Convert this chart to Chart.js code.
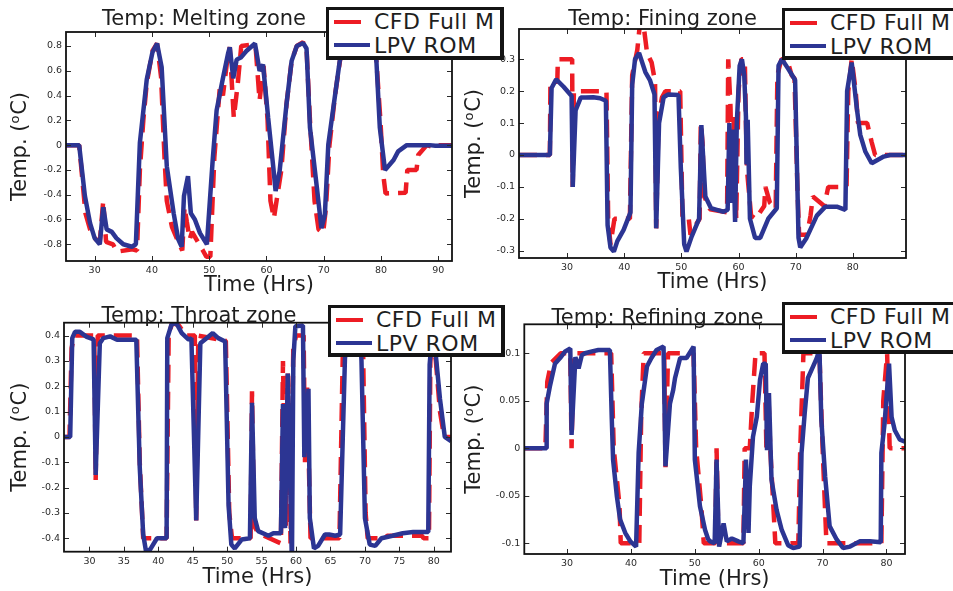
<!DOCTYPE html>
<html>
<head>
<meta charset="utf-8">
<script src="https://cdn.jsdelivr.net/npm/chart.js@4.4.1/dist/chart.umd.min.js"></script>
<style>
  html, body { margin: 0; padding: 0; background: #fff; }
  body { width: 953px; height: 591px; overflow: hidden; position: relative; font-family: "DejaVu Sans", sans-serif; }
  canvas { position: absolute; }
  .lg { position: absolute; background: #fff; border: 3px solid #141414; border-right-width: 4px; border-bottom-width: 4px; box-sizing: border-box; z-index: 5; }
  .lg .sw { position: absolute; height: 4px; }
  .lg .tx { position: absolute; font-size: 22px; line-height: 1; letter-spacing: 0.5px; color: #1e1e1e; white-space: nowrap; }
</style>
</head>
<body>
<script>
// ---- series: [time (h), temperature deviation (°C)] ----
const meltingCfd = [[25,0],[27.3,0],[28.4,-0.55],[29.2,-0.68],[30.2,-0.76],[30.9,-0.78],[31.5,-0.45],[32.0,-0.78],[33.2,-0.8],[33.9,-0.86],[36.6,-0.84],[37.4,-0.85],[37.9,-0.2],[38.5,0.2],[39.1,0.5],[40.1,0.76],[40.9,0.82],[41.6,0.55],[42.2,-0.1],[42.6,-0.45],[43.5,-0.66],[44.6,-0.78],[45.3,-0.85],[45.7,-0.5],[46.1,-0.62],[46.6,-0.76],[47.0,-0.7],[48.0,-0.78],[48.9,-0.85],[49.5,-0.9],[50.2,-0.9],[50.9,-0.1],[51.9,0.49],[52.4,0.4],[53.3,0.74],[53.6,0.79],[54.3,0.22],[55.0,0.5],[55.6,0.8],[57.3,0.81],[58.1,0.8],[58.8,0.36],[59.5,0.64],[60.2,0.2],[60.7,-0.45],[61.3,-0.59],[61.8,-0.44],[62.6,-0.2],[63.5,0.33],[64.4,0.68],[65.3,0.8],[66.4,0.83],[67.0,0.78],[67.6,0.2],[68.4,-0.45],[69.1,-0.68],[69.9,-0.71],[70.4,-0.5],[71.0,0],[72.0,0.41],[72.9,0.7],[73.8,0.82],[78.5,0.83],[79.2,0.68],[79.9,0.2],[80.4,-0.24],[80.8,-0.39],[84.3,-0.385],[84.6,-0.2],[86.2,-0.2],[86.5,-0.08],[88.0,0],[89.4,-0.02],[89.9,0],[92.4,0]];
const meltingLpv = [[25,0],[27.3,0],[28.3,-0.41],[29.2,-0.63],[30.0,-0.75],[30.9,-0.8],[31.5,-0.5],[32.1,-0.68],[33.0,-0.7],[33.8,-0.75],[35.0,-0.8],[36.5,-0.82],[37.2,-0.8],[37.9,0.02],[39.1,0.53],[40.1,0.75],[40.9,0.82],[41.7,0.63],[42.6,-0.17],[43.8,-0.55],[44.6,-0.76],[45.2,-0.82],[45.6,-0.41],[46.3,-0.25],[46.8,-0.55],[47.5,-0.6],[48.4,-0.71],[49.6,-0.8],[50.6,-0.13],[51.3,0.28],[52.4,0.54],[53.3,0.74],[53.6,0.79],[54.2,0.54],[54.8,0.69],[55.6,0.71],[56.5,0.76],[58.0,0.82],[58.8,0.6],[59.4,0.65],[60.3,0.22],[61.2,-0.18],[61.6,-0.37],[62.3,-0.21],[63.5,0.33],[64.4,0.68],[65.3,0.8],[66.4,0.825],[67.0,0.78],[67.6,0.14],[68.8,-0.34],[69.6,-0.67],[70.2,-0.56],[70.8,0.005],[72.0,0.41],[72.8,0.68],[73.8,0.82],[78.5,0.83],[79.2,0.68],[79.8,0.14],[80.7,-0.2],[82.2,-0.12],[83.0,-0.05],[84.5,0],[88.5,0],[89.5,-0.005],[92.4,-0.005]];

const finingCfd = [[21.6,0],[27.0,0],[27.1,0.23],[28.3,0.23],[28.4,0.3],[30.9,0.3],[31.0,-0.1],[31.2,0.2],[36.9,0.2],[37.2,-0.2],[37.6,-0.28],[38.3,-0.2],[41.0,-0.2],[41.4,0.25],[42.3,0.33],[42.8,0.42],[43.3,0.42],[44.0,0.32],[44.8,0.29],[45.4,0.23],[45.6,-0.23],[46.0,0.12],[46.6,0.18],[47.2,0.2],[49.8,0.2],[50.2,-0.2],[51.3,-0.2],[51.6,-0.25],[52.5,-0.22],[53.2,-0.2],[53.4,0.1],[53.7,0.04],[54.0,-0.13],[55.0,-0.17],[58.0,-0.18],[58.2,0.3],[58.6,0.15],[58.9,-0.1],[59.2,0.13],[59.6,-0.2],[60.0,0.2],[60.5,0.3],[61.1,0.3],[61.3,0.1],[61.5,-0.05],[62.2,-0.19],[63.0,-0.2],[64.5,-0.16],[64.7,-0.1],[65.5,-0.15],[66.5,-0.17],[66.8,0.25],[67.5,0.3],[68.5,0.3],[69.3,0.25],[69.8,0.24],[70.3,-0.1],[70.6,-0.25],[72.0,-0.25],[72.6,-0.19],[73.0,-0.13],[75.0,-0.16],[75.7,-0.1],[78.9,-0.1],[79.2,0.2],[79.8,0.3],[80.5,0.2],[80.9,0.1],[82.5,0.1],[83.3,0.04],[83.9,0],[89.3,0]];
const finingLpv = [[21.6,0],[27.0,0],[27.3,0.21],[28.1,0.237],[29.4,0.214],[30.8,0.185],[31.0,-0.1],[31.5,0.14],[32.4,0.18],[33.2,0.18],[34.6,0.181],[35.8,0.178],[36.8,0.17],[37.1,-0.22],[37.6,-0.29],[38.2,-0.303],[38.8,-0.27],[39.9,-0.235],[41.1,-0.18],[41.4,0.22],[41.9,0.3],[42.6,0.32],[43.7,0.26],[44.5,0.235],[45.3,0.19],[45.6,-0.23],[46.1,0.1],[46.9,0.181],[47.7,0.19],[49.5,0.188],[49.9,-0.037],[50.5,-0.28],[50.9,-0.303],[51.8,-0.256],[53.1,-0.2],[53.5,0.094],[54.2,-0.13],[55.2,-0.167],[56.2,-0.172],[57.4,-0.178],[58.1,-0.172],[58.4,0.1],[58.7,-0.15],[59.0,0.08],[59.4,-0.21],[59.7,0.1],[60.2,0.28],[60.6,0.3],[61.0,0.25],[61.3,0.12],[61.4,-0.03],[61.6,0.11],[62.0,-0.2],[62.9,-0.26],[63.8,-0.26],[65.2,-0.2],[66.7,-0.167],[67.0,0.28],[67.6,0.3],[68.7,0.27],[69.9,0.235],[70.5,-0.26],[70.8,-0.29],[71.9,-0.26],[73.7,-0.19],[75.2,-0.162],[77.2,-0.162],[78.7,-0.172],[79.0,0.2],[79.8,0.29],[80.7,0.146],[81.3,0.063],[82.2,0.01],[83.3,-0.026],[85.4,-0.005],[86.5,0],[89.3,0]];

const throatCfd = [[26.3,0],[27.1,0],[27.4,0.35],[27.8,0.4],[30.7,0.4],[30.9,-0.17],[31.2,0.4],[36.9,0.4],[37.3,-0.1],[37.8,-0.4],[41.2,-0.4],[41.5,0.4],[42.0,0.45],[43.0,0.44],[44.0,0.4],[45.3,0.4],[45.5,-0.33],[45.8,0.4],[49.8,0.38],[50.3,-0.3],[50.7,-0.4],[53.4,-0.4],[53.6,0.18],[53.9,-0.35],[54.5,-0.38],[57.8,-0.42],[58.1,0.3],[58.5,-0.35],[58.8,0.25],[59.2,-0.42],[59.6,0.35],[60.0,0.4],[61.1,0.4],[61.3,-0.1],[61.6,0.2],[62.1,-0.4],[66.3,-0.4],[66.8,0.35],[67.3,0.4],[69.7,0.4],[70.1,-0.3],[70.4,-0.4],[73.0,-0.4],[73.2,-0.39],[78.3,-0.39],[78.5,-0.4],[79.3,-0.4],[79.5,0.3],[79.8,0.4],[80.3,0.3],[80.9,0.1],[81.5,0],[82.5,0]];
const throatLpv = [[26.3,0],[27.2,0],[27.5,0.39],[27.9,0.415],[28.6,0.415],[29.6,0.395],[30.6,0.385],[30.9,-0.15],[31.5,0.37],[32.0,0.39],[33.0,0.397],[34.0,0.384],[35.4,0.384],[36.8,0.384],[37.3,-0.12],[37.8,-0.385],[38.2,-0.45],[38.8,-0.445],[39.8,-0.4],[41.2,-0.4],[41.3,0.39],[41.9,0.443],[42.6,0.45],[43.4,0.41],[44.4,0.384],[44.8,0.39],[45.5,-0.33],[46.1,0.37],[47.0,0.39],[47.9,0.41],[48.7,0.39],[49.7,0.377],[50.2,-0.27],[50.6,-0.425],[51.1,-0.44],[52.1,-0.405],[53.3,-0.4],[53.6,0.135],[54.0,-0.32],[54.5,-0.372],[56.0,-0.39],[56.7,-0.38],[57.8,-0.38],[58.1,0.13],[58.4,-0.36],[58.8,0.25],[59.4,-0.5],[59.6,0.3],[59.9,0.437],[61.0,0.44],[61.2,-0.08],[61.8,0.19],[62.0,-0.32],[62.6,-0.44],[63.2,-0.43],[64.2,-0.385],[64.8,-0.385],[65.7,-0.39],[66.4,-0.385],[67.1,0.31],[67.6,0.42],[69.3,0.42],[69.5,0.3],[70.0,-0.32],[70.7,-0.425],[71.5,-0.43],[72.4,-0.4],[74.0,-0.39],[75.5,-0.38],[77.0,-0.375],[79.2,-0.375],[79.4,0.285],[79.8,0.42],[80.2,0.35],[80.9,0.15],[81.6,0],[82.5,-0.016]];

const refiningCfd = [[23.3,0],[26.6,0],[26.9,0.07],[27.5,0.09],[29.0,0.1],[30.5,0.1],[30.7,0],[31.0,0.1],[36.9,0.1],[37.3,0],[38.2,-0.06],[38.4,-0.1],[41.3,-0.1],[41.6,0.035],[42.0,0.1],[45.2,0.1],[45.4,-0.02],[45.8,0.1],[49.8,0.1],[50.2,0],[51.0,-0.06],[51.4,-0.1],[53.2,-0.1],[53.4,0],[53.7,-0.1],[57.6,-0.1],[57.8,0],[58.6,0],[59.0,0.05],[59.5,0.1],[60.9,0.1],[61.2,0],[61.5,0.06],[61.8,0],[62.6,-0.1],[66.2,-0.1],[66.5,0],[67.0,0.1],[69.5,0.1],[70.0,0],[70.6,-0.1],[79.2,-0.1],[79.5,0.05],[80.1,0.1],[80.5,0],[82.9,0]];
const refiningLpv = [[23.3,0],[26.7,0],[26.8,0.047],[27.3,0.065],[28.1,0.089],[28.9,0.095],[29.7,0.102],[30.5,0.105],[30.7,0.014],[31.3,0.096],[31.8,0.084],[32.3,0.098],[32.8,0.1],[33.9,0.102],[34.9,0.1035],[36.7,0.1035],[37.0,0.03],[37.2,-0.012],[37.8,-0.051],[38.3,-0.075],[39.1,-0.089],[39.9,-0.098],[40.8,-0.1035],[41.2,-0.005],[41.7,0.047],[42.5,0.086],[43.2,0.095],[44.0,0.1035],[45.1,0.107],[45.4,-0.019],[46.1,0.047],[46.6,0.061],[46.9,0.074],[47.7,0.095],[48.7,0.095],[49.8,0.107],[50.0,-0.012],[50.8,-0.061],[51.6,-0.086],[52.1,-0.096],[52.4,-0.098],[53.1,-0.1],[53.4,-0.012],[53.8,-0.1035],[54.5,-0.079],[55.0,-0.098],[55.8,-0.095],[56.8,-0.098],[57.6,-0.1],[58.0,-0.012],[58.4,-0.089],[58.6,-0.04],[59.1,0.012],[59.7,0.033],[60.2,0.072],[60.7,0.089],[61.1,0.089],[61.3,-0.002],[61.6,0.058],[62.0,-0.033],[62.8,-0.065],[63.6,-0.086],[64.6,-0.102],[65.4,-0.105],[66.4,-0.1035],[66.7,-0.005],[67.2,0.037],[67.7,0.074],[68.5,0.086],[69.1,0.095],[69.5,0.105],[69.8,0.03],[70.4,-0.03],[71.1,-0.082],[72.2,-0.096],[73.2,-0.105],[74.3,-0.1035],[75.8,-0.098],[77.4,-0.098],[79.1,-0.099],[79.2,-0.005],[79.7,0.026],[80.4,0.089],[80.8,0.033],[81.3,0.019],[82.1,0.009],[82.9,0.007]];

// ---- tick labels ----
const meltingXTicks = [30, 40, 50, 60, 70, 80, 90];
const meltingYTicks = [-0.8, -0.6, -0.4, -0.2, 0, 0.2, 0.4, 0.6, 0.8];
const finingXTicks = [30, 40, 50, 60, 70, 80];
const finingYTicks = [-0.3, -0.2, -0.1, 0, 0.1, 0.2, 0.3];
const throatXTicks = [30, 35, 40, 45, 50, 55, 60, 65, 70, 75, 80];
const throatYTicks = [-0.4, -0.3, -0.2, -0.1, 0, 0.1, 0.2, 0.3, 0.4];
const refiningXTicks = [30, 40, 50, 60, 70, 80];
const refiningYTicks = [-0.1, -0.05, 0, 0.05, 0.1];

const seriesNames = ['CFD Full M', 'LPV ROM'];
const panelTitles = ['Temp: Melting zone', 'Temp: Fining zone', 'Temp: Throat zone', 'Temp: Refining zone'];
const xAxisLabel = 'Time (Hrs)';
const yAxisLabel = 'Temp. (\u1D52C)';

const RED = '#ED1C24';
const BLUE = '#2C3593';
const INK = '#1e1e1e';
const FAMILY = '"DejaVu Sans", sans-serif';

// inner tick marks on all four sides plus the box frame
const framePlugin = {
  id: 'boxFrame',
  afterDatasetsDraw(chart) {
    const { ctx, chartArea: a, scales: { x, y } } = chart;
    ctx.save();
    ctx.strokeStyle = '#2a2a2a';
    ctx.lineWidth = 1;
    ctx.beginPath();
    x.ticks.forEach(t => {
      const p = Math.round(x.getPixelForValue(t.value)) + 0.5;
      ctx.moveTo(p, a.bottom); ctx.lineTo(p, a.bottom - 5);
      ctx.moveTo(p, a.top); ctx.lineTo(p, a.top + 5);
    });
    y.ticks.forEach(t => {
      const p = Math.round(y.getPixelForValue(t.value)) + 0.5;
      ctx.moveTo(a.left, p); ctx.lineTo(a.left + 5, p);
      ctx.moveTo(a.right, p); ctx.lineTo(a.right - 5, p);
    });
    ctx.stroke();
    ctx.strokeStyle = '#111';
    ctx.lineWidth = 1.8;
    ctx.strokeRect(a.left, a.top, a.right - a.left, a.bottom - a.top);
    ctx.restore();
  }
};

// panel heading placed above the axes box
const headingPlugin = {
  id: 'panelHeading',
  afterDraw(chart, args, opts) {
    const ctx = chart.ctx;
    ctx.save();
    ctx.font = '21px ' + FAMILY;
    ctx.fillStyle = INK;
    ctx.textAlign = 'center';
    ctx.textBaseline = 'alphabetic';
    ctx.fillText(opts.text, opts.cx, opts.baseline);
    ctx.restore();
  }
};

function makePanel(p) {
  const cv = document.createElement('canvas');
  cv.width = p.w; cv.height = p.h;
  cv.style.left = p.x + 'px'; cv.style.top = p.y + 'px';
  document.body.appendChild(cv);
  const tickFont = { family: FAMILY, size: 9.5 };
  const titleFont = { family: FAMILY, size: 21, lineHeight: 1 };
  new Chart(cv, {
    type: 'line',
    data: {
      datasets: [
        { label: seriesNames[1], data: p.lpv, borderColor: BLUE, borderWidth: 4.5, pointRadius: 0, tension: 0, borderJoinStyle: 'bevel', order: 1 },
        { label: seriesNames[0], data: p.cfd, borderColor: RED, borderWidth: 4.5, borderDash: [18, 9], pointRadius: 0, tension: 0, borderJoinStyle: 'bevel', order: 2 }
      ]
    },
    options: {
      responsive: false,
      animation: false,
      devicePixelRatio: 1,
      events: [],
      layout: { padding: { top: p.padTop, right: p.padRight, left: 0, bottom: 0 } },
      plugins: {
        legend: { display: false },
        tooltip: { enabled: false },
        panelHeading: { text: p.title, cx: p.titleCx, baseline: p.titleBase }
      },
      scales: {
        x: {
          type: 'linear', min: p.xMin, max: p.xMax,
          afterFit: s => { s.height = p.xAxisH; },
          afterBuildTicks: s => { s.ticks = p.xTicks.map(v => ({ value: v })); },
          grid: { display: false, drawTicks: false },
          border: { display: false },
          ticks: { font: tickFont, color: '#2b2b2b', padding: 4, maxRotation: 0, autoSkip: false, callback: v => String(v) },
          title: { display: true, text: xAxisLabel, font: titleFont, color: INK, padding: { top: 0, bottom: p.xTitlePad } }
        },
        y: {
          type: 'linear', min: p.yMin, max: p.yMax,
          afterFit: s => { s.width = p.yAxisW; },
          afterBuildTicks: s => { s.ticks = p.yTicks.map(v => ({ value: v })); },
          grid: { display: false, drawTicks: false },
          border: { display: false },
          ticks: { font: tickFont, color: '#2b2b2b', padding: 4, autoSkip: false, callback: v => String(v) },
          title: { display: true, text: yAxisLabel, font: titleFont, color: INK, padding: { top: p.yTitlePad, bottom: 0 } }
        }
      }
    },
    plugins: [framePlugin, headingPlugin]
  });
}

function makeLegend(l) {
  const box = document.createElement('div');
  box.className = 'lg';
  box.style.left = l.x + 'px'; box.style.top = l.y + 'px';
  box.style.width = l.w + 'px'; box.style.height = l.h + 'px';
  // offsets below are measured from the inner edge of the 3px frame
  box.innerHTML =
    '<div class="sw" style="left:5px;top:10px;width:27px;background:' + RED + '"></div>' +
    '<div class="tx" style="left:45px;top:1px">' + seriesNames[0] + '</div>' +
    '<div class="sw" style="left:5px;top:33px;width:36px;background:' + BLUE + '"></div>' +
    '<div class="tx" style="left:45px;top:24.5px">' + seriesNames[1] + '</div>';
  document.body.appendChild(box);
}

makePanel({ x: 0, y: 0, w: 470, h: 300, padTop: 32, padRight: 18, yAxisW: 66, xAxisH: 39,
  xMin: 25, xMax: 92.4, yMin: -0.935, yMax: 0.913, xTicks: meltingXTicks, yTicks: meltingYTicks,
  cfd: meltingCfd, lpv: meltingLpv, title: panelTitles[0], titleCx: 204, titleBase: 25.3, xTitlePad: 4.2, yTitlePad: 10.5 });
makePanel({ x: 455, y: 0, w: 498, h: 300, padTop: 29, padRight: 47, yAxisW: 64, xAxisH: 42,
  xMin: 21.6, xMax: 89.3, yMin: -0.323, yMax: 0.395, xTicks: finingXTicks, yTicks: finingYTicks,
  cfd: finingCfd, lpv: finingLpv, title: panelTitles[1], titleCx: 207.5, titleBase: 25.3, xTitlePad: 6.5, yTitlePad: 9.5 });
makePanel({ x: 0, y: 300, w: 470, h: 291, padTop: 22.7, padRight: 19, yAxisW: 64, xAxisH: 39.3,
  xMin: 26.3, xMax: 82.5, yMin: -0.453, yMax: 0.451, xTicks: throatXTicks, yTicks: throatYTicks,
  cfd: throatCfd, lpv: throatLpv, title: panelTitles[2], titleCx: 199, titleBase: 22, xTitlePad: 2.5, yTitlePad: 10.2 });
makePanel({ x: 455, y: 300, w: 498, h: 291, padTop: 24.3, padRight: 48, yAxisW: 69.3, xAxisH: 37,
  xMin: 23.3, xMax: 82.9, yMin: -0.1113, yMax: 0.1305, xTicks: refiningXTicks, yTicks: refiningYTicks,
  cfd: refiningCfd, lpv: refiningLpv, title: panelTitles[3], titleCx: 202.5, titleBase: 24, xTitlePad: 0.8, yTitlePad: 9.5 });

makeLegend({ x: 326, y: 7, w: 178, h: 53 });
makeLegend({ x: 782, y: 8, w: 200, h: 52 });
makeLegend({ x: 328, y: 305, w: 177, h: 52 });
makeLegend({ x: 782, y: 302, w: 200, h: 52 });
</script>
</body>
</html>
